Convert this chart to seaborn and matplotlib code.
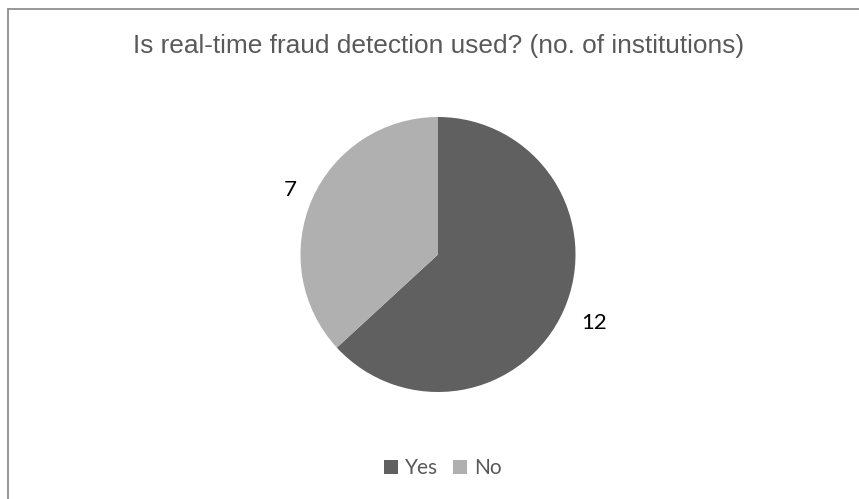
import matplotlib
matplotlib.use("Agg")
import matplotlib.pyplot as plt
import seaborn as sns
from matplotlib.patches import Patch
from matplotlib.lines import Line2D
import numpy as np

# Data
categories = ["Yes", "No"]
values = [12, 7]
colors = ["#606060", "#b0b0b0"]
title = "Is real-time fraud detection used? (no. of institutions)"

sns.set_theme(style="white")
plt.rcParams["font.family"] = ["Liberation Sans", "DejaVu Sans"]

W, H = 859, 499
fig = plt.figure(figsize=(W / 100, H / 100), dpi=100)
fig.patch.set_facecolor("white")

# pie axes: centre (438, 254.5) px, radius 137.5 px
cx, cy, r = 438, 254.5, 137.5
ax = fig.add_axes([(cx - r) / W, 1 - (cy + r) / H, 2 * r / W, 2 * r / H])
wedges, _ = ax.pie(values, colors=colors, startangle=90, counterclock=False,
                   radius=1, wedgeprops=dict(linewidth=0))
ax.set_xlim(-1, 1)
ax.set_ylim(-1, 1)
ax.set_aspect("auto")
ax.axis("off")

label_dist = [1.24, 1.17]
for w, v, d in zip(wedges, values, label_dist):
    ang = np.deg2rad((w.theta1 + w.theta2) / 2)
    ax.text(d * np.cos(ang), d * np.sin(ang), str(v), ha="center", va="center",
            fontsize=16, color="#000000", family=["Lato", "DejaVu Sans"])

fig.text(439 / W, 1 - 53.5 / H, title, ha="center", va="baseline",
         fontsize=18.9, color="#595959")

handles = [Patch(facecolor=c, edgecolor="none") for c in colors]
leg = fig.legend(handles, categories, loc="center", bbox_to_anchor=(443 / W, 1 - 468 / H),
                 ncol=2, frameon=False, handlelength=0.67, handleheight=0.67,
                 handletextpad=0.34, columnspacing=0.72,
                 prop=dict(family=["Lato", "DejaVu Sans"], size=15))
for t in leg.get_texts():
    t.set_color("#595959")

# chart border (top and left visible)
fig.add_artist(Line2D([7.5 / W, 1], [1 - 9 / H, 1 - 9 / H], color="#868686", linewidth=1.2))
fig.add_artist(Line2D([7.5 / W, 7.5 / W], [0, 1 - 9 / H], color="#868686", linewidth=1.2))

fig.savefig("out.png", dpi=100, facecolor="white")
